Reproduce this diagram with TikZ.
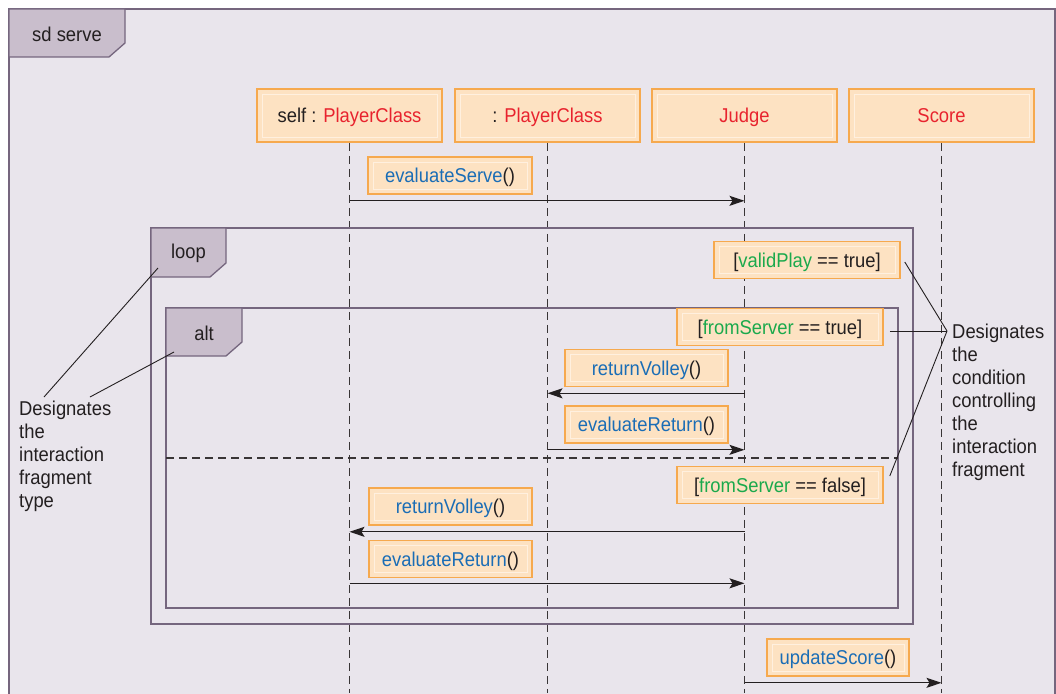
\documentclass[tikz,border=0pt]{standalone}
\usepackage{fontspec}
\setmainfont{Liberation Sans}[FakeStretch=0.92]
\usetikzlibrary{arrows.meta, calc}
\definecolor{cFondo}{HTML}{E9E5EC}
\definecolor{cMarco}{HTML}{75667E}
\definecolor{cPestana}{HTML}{C9BECC}
\definecolor{cCaja}{HTML}{FDE2C2}
\definecolor{cBorde}{HTML}{F6A94E}
\definecolor{cBrillo}{HTML}{FFF0DF}
\definecolor{cRojo}{HTML}{E8232E}
\definecolor{cAzul}{HTML}{1A6DB6}
\definecolor{cVerde}{HTML}{1BA94C}
\definecolor{cTinta}{HTML}{231F20}

\begin{document}
\begin{tikzpicture}[
    x=1pt, y=-1pt, font=\fontsize{20}{23}\selectfont, text=cTinta,
    box/.style={draw=cBorde, line width=1.6pt, fill=cCaja, inner sep=0pt,
                text height=14.5pt, text depth=0pt,
                path picture={\draw[cBrillo, line width=1pt]
                  ([shift={(5pt,-5pt)}]path picture bounding box.north west) rectangle
                  ([shift={(-5pt,5pt)}]path picture bounding box.south east);}},
    head/.style={box, minimum width=185, minimum height=53},
    msg/.style={box, minimum height=37},
    frame/.style={draw=cMarco, line width=1.5pt},
    tab/.style={draw=cMarco, line width=1.3pt, fill=cPestana},
    life/.style={draw=cTinta!90, line width=1.2pt, dash pattern=on 8pt off 5pt},
    call/.style={-{Stealth[length=15pt, width=10pt, inset=3pt]}, line width=1.3pt, cTinta},
    note/.style={line width=0.9pt, cTinta},
    txt/.style={align=left, inner sep=0pt, anchor=north west},
]
\useasboundingbox (0,0) rectangle (1056,693);

% ===========================================================================
% Marco del diagrama: sd serve
% ===========================================================================
\fill[cFondo] (9,9) rectangle (1055,700);
\draw[frame] (9,700) -- (9,9) -- (1055,9) -- (1055,700);
\draw[tab] (9,9) -- (125,9) -- (125,43) -- (109,57) -- (9,57) -- cycle;
\node (sdname) at (67,34) {sd serve};

% ----- cabeceras de las líneas de vida -----
\node[head] (self)  at (349.5,115.5) {self : \textcolor{cRojo}{PlayerClass}};
\node[head] (other) at (547.5,115.5) {: \textcolor{cRojo}{PlayerClass}};
\node[head] (judge) at (744.5,115.5) {\textcolor{cRojo}{Judge}};
\node[head] (score) at (941.5,115.5) {\textcolor{cRojo}{Score}};

\coordinate (bottom) at (0,693);
\foreach \n in {self, other, judge, score} {
    \draw[life] (\n.south) -- (\n.south |- bottom);
}

% ----- evaluateServe -----
\node[msg, minimum width=164] (evs) at (450,175.5)
      {\textcolor{cAzul}{evaluateServe}()};
\draw[call] ([yshift=-6pt]evs.south -| self) -- ([yshift=-6pt]evs.south -| judge);

% ===========================================================================
% Fragmentos combinados: loop / alt
% ===========================================================================
\draw[frame] (151,228) rectangle (913,624);
\draw[tab] (151,228) -- (226,228) -- (226,263) -- (210,277) -- (151,277) -- cycle;
\node (loopname) at (188.5,253) {loop};

\draw[frame, line width=1.3pt] (166,308) rectangle (898,608);
\draw[tab] (166,308) -- (242,308) -- (242,342) -- (226,356) -- (166,356) -- cycle;
\node (altname) at (204,333) {alt};

\draw[life, line width=1.3pt] (166,458) -- (898,458);

% ----- condiciones de guarda -----
\node[msg, minimum width=186] (valid) at (807,260)
      {[\textcolor{cVerde}{validPlay} == true]};
\node[msg, minimum width=206] (fsT) at (780,327)
      {[\textcolor{cVerde}{fromServer} == true]};
\node[msg, minimum width=206] (fsF) at (780,485)
      {[\textcolor{cVerde}{fromServer} == false]};

% ----- primera alternativa -----
\node[msg, minimum width=163] (rv1) at (646.5,368)
      {\textcolor{cAzul}{returnVolley}()};
\draw[call] ([yshift=-6pt]rv1.south -| judge) -- ([yshift=-6pt]rv1.south -| other);

\node[msg, minimum width=163] (er1) at (646.5,424.5)
      {\textcolor{cAzul}{evaluateReturn}()};
\draw[call] ([yshift=-6pt]er1.south -| other) -- ([yshift=-6pt]er1.south -| judge);

% ----- segunda alternativa -----
\node[msg, minimum width=163] (rv2) at (450.5,506.5)
      {\textcolor{cAzul}{returnVolley}()};
\draw[call] ([yshift=-6pt]rv2.south -| judge) -- ([yshift=-6pt]rv2.south -| self);

\node[msg, minimum width=163] (er2) at (450.5,559)
      {\textcolor{cAzul}{evaluateReturn}()};
\draw[call] ([yshift=-5pt]er2.south -| self) -- ([yshift=-5pt]er2.south -| judge);

% ----- updateScore -----
\node[msg, minimum width=142] (us) at (838,657.5)
      {\textcolor{cAzul}{updateScore}()};
\draw[call] ([yshift=-6pt]us.south -| judge) -- ([yshift=-6pt]us.south -| score);

% ===========================================================================
% Anotaciones
% ===========================================================================
\node[txt] (typenote) at (19,401)
      {Designates\\the\\interaction\\fragment\\type};
\coordinate (loopPt) at (158,268);
\coordinate (altPt)  at (174,352);
\draw[note] (loopPt) -- ([xshift=25pt,yshift=4pt]typenote.north west);
\draw[note] (altPt)  -- ([xshift=71pt,yshift=4pt]typenote.north west);

\node[txt] (condnote) at (952,324)
      {Designates\\the\\condition\\controlling\\the\\interaction\\fragment};
\coordinate (cond) at (947,331);
\draw[note] ([xshift=4pt,yshift=-2pt]valid.east) -- (cond);
\draw[note] ([xshift=6pt,yshift=-4pt]fsT.east)   -- (cond);
\draw[note] ([xshift=6pt,yshift=9pt]fsF.east)    -- (cond);

\end{tikzpicture}
\end{document}
